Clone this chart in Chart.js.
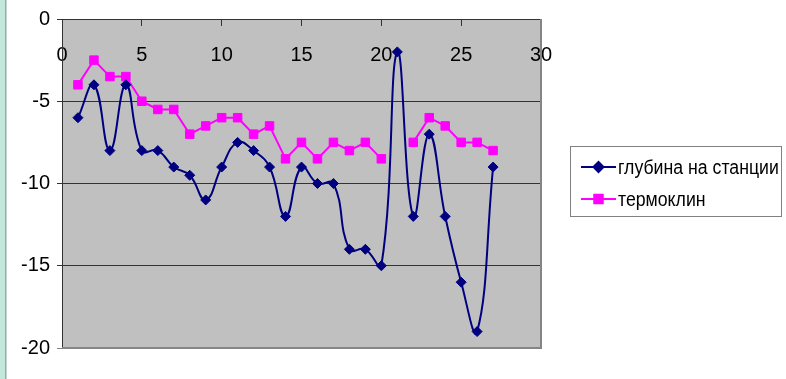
<!DOCTYPE html>
<html>
<head>
<meta charset="utf-8">
<script src="https://cdn.jsdelivr.net/npm/chart.js@4.4.1/dist/chart.umd.min.js"></script>
<style>
  html, body { margin: 0; padding: 0; background: #fff; }
  #wrap { position: relative; width: 786px; height: 379px; }
</style>
</head>
<body>
<div id="wrap"><canvas id="chart"></canvas></div>
<script>
// station numbers and measured depths (m, negative = below surface)
const stations = [1, 2, 3, 4, 5, 6, 7, 8, 9, 10, 11, 12, 13, 14, 15, 16, 17, 18, 19, 20, 21, 22, 23, 24, 25, 26, 27];
const depth = [-6, -4, -8, -4, -8, -8, -9, -9.5, -11, -9, -7.5, -8, -9, -12, -9, -10, -10, -14, -14, -15, -2, -12, -7, -12, -16, -19, -9];
const thermocline = [-4, -2.5, -3.5, -3.5, -5, -5.5, -5.5, -7, -6.5, -6, -6, -7, -6.5, -8.5, -7.5, -8.5, -7.5, -8, -7.5, -8.5, null, -7.5, -6, -6.5, -7.5, -7.5, -8];
const xTicks = [0, 5, 10, 15, 20, 25, 30];
const yTicks = [0, -5, -10, -15, -20];
const seriesNames = ['глубина на станции', 'термоклин'];

const FONT = '"Liberation Sans", Arial, sans-serif';
const AXIS_DARK = '#333333';
const FRAME_GRAY = '#858585';

// plot background, left strip and right/bottom frame
const framePlugin = {
  id: 'frame',
  beforeDraw(chart) {
    const { ctx, chartArea: a } = chart;
    ctx.save();
    ctx.fillStyle = '#c2e8dc';
    ctx.fillRect(0, 0, 6, chart.height);
    ctx.fillStyle = '#9aa9a4';
    ctx.fillRect(5, 0, 1.5, chart.height);
    ctx.fillStyle = '#c0c0c0';
    ctx.fillRect(a.left, a.top, a.right - a.left, a.bottom - a.top);
    ctx.restore();
  },
  beforeDatasetsDraw(chart) {
    const { ctx, chartArea: a } = chart;
    ctx.save();
    ctx.strokeStyle = FRAME_GRAY;
    ctx.lineWidth = 2;
    ctx.beginPath();
    ctx.moveTo(a.right, a.top);
    ctx.lineTo(a.right, a.bottom);
    ctx.lineTo(a.left, a.bottom);
    ctx.stroke();
    ctx.restore();
  }
};

// boxed legend on the right, line + marker samples
const legendBox = {
  id: 'legendBox',
  afterDraw(chart) {
    const { ctx } = chart;
    const box = { x: 570.5, y: 146.5, w: 211, h: 70 };
    ctx.save();
    ctx.fillStyle = '#ffffff';
    ctx.fillRect(box.x, box.y, box.w, box.h);
    ctx.strokeStyle = '#808080';
    ctx.lineWidth = 1;
    ctx.strokeRect(box.x, box.y, box.w, box.h);

    ctx.font = '20px ' + FONT;
    ctx.textBaseline = 'middle';
    ctx.textAlign = 'left';
    chart.data.datasets.forEach((ds, i) => {
      const cy = 167 + i * 32;
      ctx.strokeStyle = ds.borderColor;
      ctx.lineWidth = ds.borderWidth;
      ctx.beginPath();
      ctx.moveTo(581, cy);
      ctx.lineTo(616, cy);
      ctx.stroke();
      ctx.fillStyle = ds.pointBackgroundColor;
      ctx.strokeStyle = ds.pointBorderColor;
      Chart.helpers.drawPoint(ctx, {
        pointStyle: ds.pointStyle,
        radius: ds.pointRadius,
        rotation: 0,
        borderWidth: 1
      }, 598.5, cy);
      // text in the reference is a bit condensed
      ctx.save();
      ctx.translate(618, cy + 1);
      ctx.scale(0.885, 1);
      ctx.fillStyle = '#000000';
      ctx.fillText(ds.label, 0, 0);
      ctx.restore();
    });
    ctx.restore();
  }
};

const ctx = document.getElementById('chart').getContext('2d');
const chart = new Chart(ctx, {
  type: 'line',
  data: {
    datasets: [
      {
        label: seriesNames[0],
        data: stations.map((s, i) => ({ x: s, y: depth[i] })),
        borderColor: '#000080',
        borderWidth: 2,
        pointStyle: 'rectRot',
        pointRadius: 5,
        pointBackgroundColor: '#000080',
        pointBorderColor: '#000080',
        pointBorderWidth: 1,
        tension: 0.45,
        fill: false
      },
      {
        label: seriesNames[1],
        data: stations.map((s, i) => ({ x: s, y: thermocline[i] })),
        borderColor: '#ff00ff',
        borderWidth: 2,
        pointStyle: 'rect',
        pointRadius: 6,
        pointBackgroundColor: '#ff00ff',
        pointBorderColor: '#ff00ff',
        pointBorderWidth: 1,
        tension: 0,
        spanGaps: false,
        fill: false
      }
    ]
  },
  options: {
    responsive: true,
    maintainAspectRatio: false,
    animation: false,
    layout: {
      padding: { left: 0, top: 19, right: 245, bottom: 31 }
    },
    plugins: {
      legend: { display: false },
      tooltip: { enabled: false }
    },
    scales: {
      x: {
        type: 'linear',
        position: { y: 0 },
        min: 0,
        max: 30,
        afterBuildTicks: scale => { scale.ticks = xTicks.map(v => ({ value: v })); },
        grid: {
          drawOnChartArea: false,
          drawTicks: true,
          tickLength: 6,
          color: AXIS_DARK
        },
        border: { display: true, color: AXIS_DARK, width: 1 },
        ticks: {
          padding: 18,
          maxRotation: 0,
          color: '#000000',
          font: { family: FONT, size: 20 }
        }
      },
      y: {
        type: 'linear',
        position: 'left',
        min: -20,
        max: 0,
        afterBuildTicks: scale => { scale.ticks = yTicks.map(v => ({ value: v })); },
        afterFit: scale => { scale.width = 62; },
        grid: {
          drawTicks: true,
          tickLength: 5,
          color: c => (c.tick && c.tick.value === -20 ? FRAME_GRAY : AXIS_DARK),
          lineWidth: 1
        },
        border: { display: true, color: AXIS_DARK, width: 1 },
        ticks: {
          padding: 7,
          color: '#000000',
          font: { family: FONT, size: 20 }
        }
      }
    }
  },
  plugins: [framePlugin, legendBox]
});
</script>
</body>
</html>
